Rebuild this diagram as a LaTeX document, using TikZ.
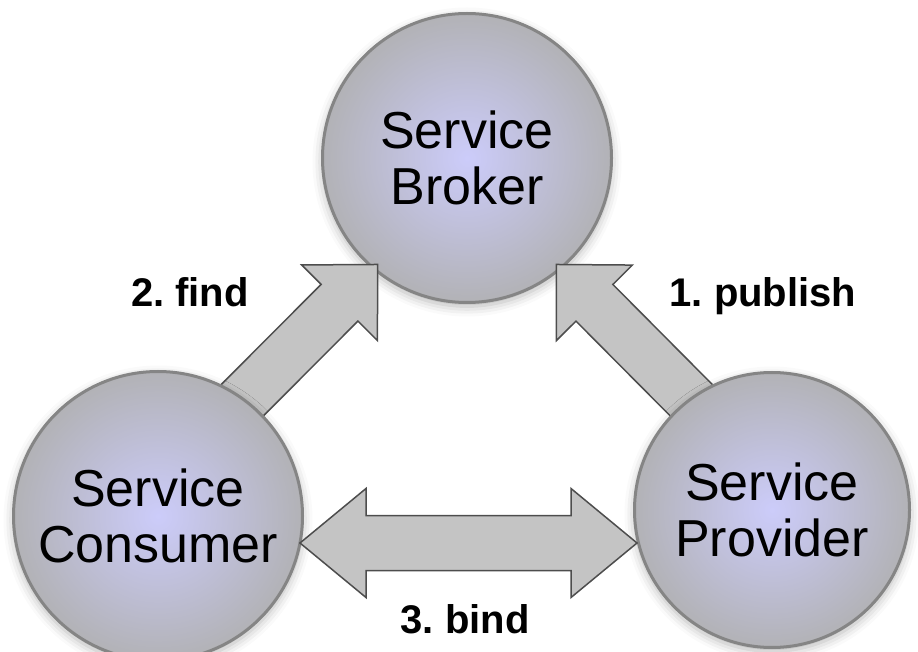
\documentclass[tikz,border=0pt]{standalone}
\usepackage{fontspec}
\setmainfont{Liberation Sans}
\usetikzlibrary{calc,shadows.blur}

\definecolor{ballout}{RGB}{178,178,182}
\definecolor{ballin}{RGB}{204,204,250}
\definecolor{ballrim}{RGB}{133,133,133}
\definecolor{arrfill}{RGB}{196,196,196}
\definecolor{arredge}{RGB}{77,77,77}

\pgfdeclarelayer{background}
\pgfsetlayers{background,main}

\tikzset{
  ball/.style={circle, draw=ballrim, line width=3pt, inner sep=0pt, shading=radial,
    inner color=ballin, outer color=ballout, align=center,
    font=\fontsize{52pt}{56pt}\selectfont,
    blur shadow={shadow xshift=0pt, shadow yshift=-4pt, shadow blur radius=10pt, shadow opacity=30}},
  arrowbody/.style={draw=arredge, fill=arrfill, line width=1.5pt, line join=miter},
  steplabel/.style={font=\bfseries\fontsize{40pt}{48pt}\selectfont\frenchspacing, anchor=base}
}

% block arrow: tail, tip, head length, head half width, shaft half width
\newcommand{\blockarrow}[5]{%
  \path ($(#2)!#3!(#1)$) coordinate (hb);
  \draw[arrowbody] (#2) -- ($(hb)!#4!90:(#2)$) -- ($(hb)!#5!90:(#2)$)
    -- ($(#1)!#5!90:(#2)$) -- ($(#1)!#5!-90:(#2)$)
    -- ($(hb)!#5!-90:(#2)$) -- ($(hb)!#4!-90:(#2)$) -- cycle;
}
% double block arrow: end a, end b, head length, head half width, shaft half width
\newcommand{\dblarrow}[5]{%
  \path ($(#2)!#3!(#1)$) coordinate (hb) ($(#1)!#3!(#2)$) coordinate (ha);
  \draw[arrowbody] (#2) -- ($(hb)!#4!90:(#2)$) -- ($(hb)!#5!90:(#2)$)
    -- ($(ha)!#5!-90:(#1)$) -- ($(ha)!#4!-90:(#1)$) -- (#1)
    -- ($(ha)!#4!90:(#1)$) -- ($(ha)!#5!90:(#1)$)
    -- ($(hb)!#5!-90:(#2)$) -- ($(hb)!#4!-90:(#2)$) -- cycle;
}

\begin{document}
\begin{tikzpicture}[x=1pt,y=1pt]
\useasboundingbox (0,0) rectangle (918,651);

\node (cons) [ball, minimum size=289pt] at (158,135) {Service\\Consumer};
\node (prov) [ball, minimum size=275pt] at (772,141) {Service\\Provider};

\begin{pgfonlayer}{background}
\node (brok) [ball, minimum size=289pt] at (467,493) {Service\\Broker};
% find and publish go up to the broker
\coordinate (findtail) at ($(cons.center)+(55:128)$);
\coordinate (findtip) at ($(brok.center)+(230:139)$);
\blockarrow{findtail}{findtip}{54pt}{53.5pt}{26pt}
\coordinate (pubtail) at ($(prov.center)+(125:118)$);
\coordinate (pubtip) at ($(brok.center)+(310:139)$);
\blockarrow{pubtail}{pubtip}{54pt}{53.5pt}{26pt}
\end{pgfonlayer}

% bind between consumer and provider
\coordinate (bindl) at ($(cons.center)+(142,-27)$);
\coordinate (bindr) at ($(prov.center)+(-135,-33)$);
\dblarrow{bindl}{bindr}{66pt}{54.5pt}{27.5pt}

\node (findlbl) [steplabel] at (190,344) {2. find};
\node (publbl) [steplabel] at (763,344) {1. publish};
\node (bindlbl) [steplabel] at (465,18) {3. bind};
\end{tikzpicture}
\end{document}
